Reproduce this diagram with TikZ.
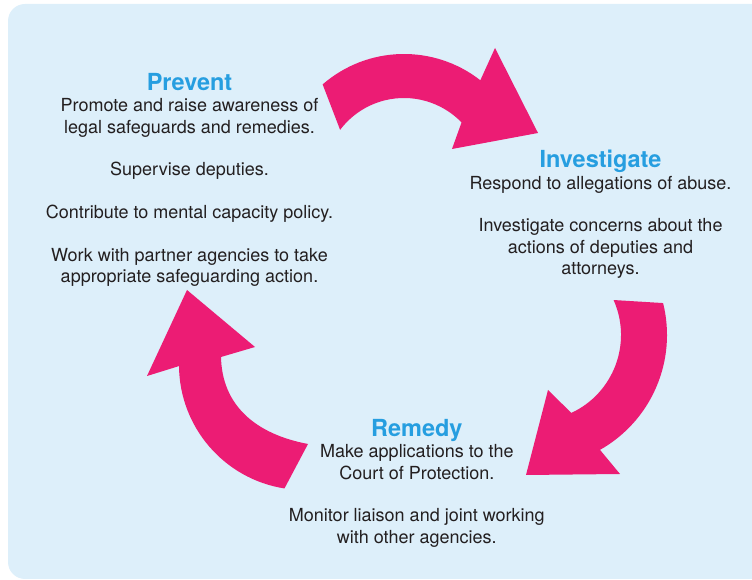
\documentclass[tikz,border=0pt]{standalone}
\usepackage{fontspec}
\setmainfont{TeX Gyre Heros}
\definecolor{panelblue}{RGB}{221,239,250}
\definecolor{cyclepink}{RGB}{236,28,116}
\definecolor{headblue}{RGB}{38,158,224}
\definecolor{bodygray}{RGB}{35,31,32}

\def\headings{{(189.5,489.3)/prevent/Prevent}, {(600.5,412)/investigate/Investigate}, {(416.8,143.3)/remedy/Remedy}}
\def\preventtext{1/Promote and raise awareness of, 2/legal safeguards and remedies., 4/Supervise deputies., 6/Contribute to mental capacity policy., 8/Work with partner agencies to take, 9/appropriate safeguarding action.}
\def\investigatetext{1/Respond to allegations of abuse., 3/Investigate concerns about the, 4/actions of deputies and, 5/attorneys.}
\def\remedytext{1/Make applications to the, 2/Court of Protection., 4/Monitor liaison and joint working, 5/with other agencies.}
\tikzstyle{panel}=[fill=panelblue, rounded corners=17pt]
\tikzstyle{cycle arrow}=[fill=cyclepink]
\tikzstyle{heading}=[font=\fontsize{23.5}{27}\selectfont\bfseries, text=headblue, anchor=base, inner sep=0pt]
\tikzstyle{body}=[font=\fontsize{18}{21.3}\selectfont, text=bodygray, anchor=base, inner sep=0pt]

\begin{document}
\begin{tikzpicture}[x=1pt, y=1pt]
  \useasboundingbox (0,0) rectangle (752,580);
  \path[panel] (8,1) rectangle (775,576);

  % First the three curved arrows
  \coordinate (top-c) at (404,402);
  \coordinate (right-c) at (535,245);
  \coordinate (left-c) at (304,215);

  \path[cycle arrow] ([shift={(131:124)}]top-c) arc[start angle=131, end angle=52, radius=124]
    -- (495,532) -- (538,447) -- (452,431) -- ([shift={(44:80)}]top-c)
    arc[start angle=44, end angle=143, radius=80] -- cycle;
  \path[cycle arrow] ([shift={(14:132)}]right-c) arc[start angle=14, end angle=-60.5, radius=132]
    -- (620,106) -- (526,105) -- (548,190) -- ([shift={(-65:86)}]right-c)
    arc[start angle=-65, end angle=24, radius=86] -- cycle;
  \path[cycle arrow] ([shift={(-99:125)}]left-c) arc[start angle=-99, end angle=-179.5, radius=125]
    -- (147,204) -- (187,290) -- (255,233) -- (221,223)
    .. controls (222,175) and (255,146) .. (308,136) -- cycle;

  % Then the headings and their texts
  \foreach \pos/\name/\title in \headings
    \node[heading] (\name) at \pos {\title};

  \foreach \n/\txt in \preventtext
    \node[body] (prevent-\n) at ([yshift=-\n*21.3pt]prevent.base) {\txt};
  \foreach \n/\txt in \investigatetext
    \node[body] (investigate-\n) at ([yshift=-\n*21.3pt]investigate.base) {\txt};
  \foreach \n/\txt in \remedytext
    \node[body] (remedy-\n) at ([yshift=-\n*21.3pt]remedy.base) {\txt};
\end{tikzpicture}
\end{document}
